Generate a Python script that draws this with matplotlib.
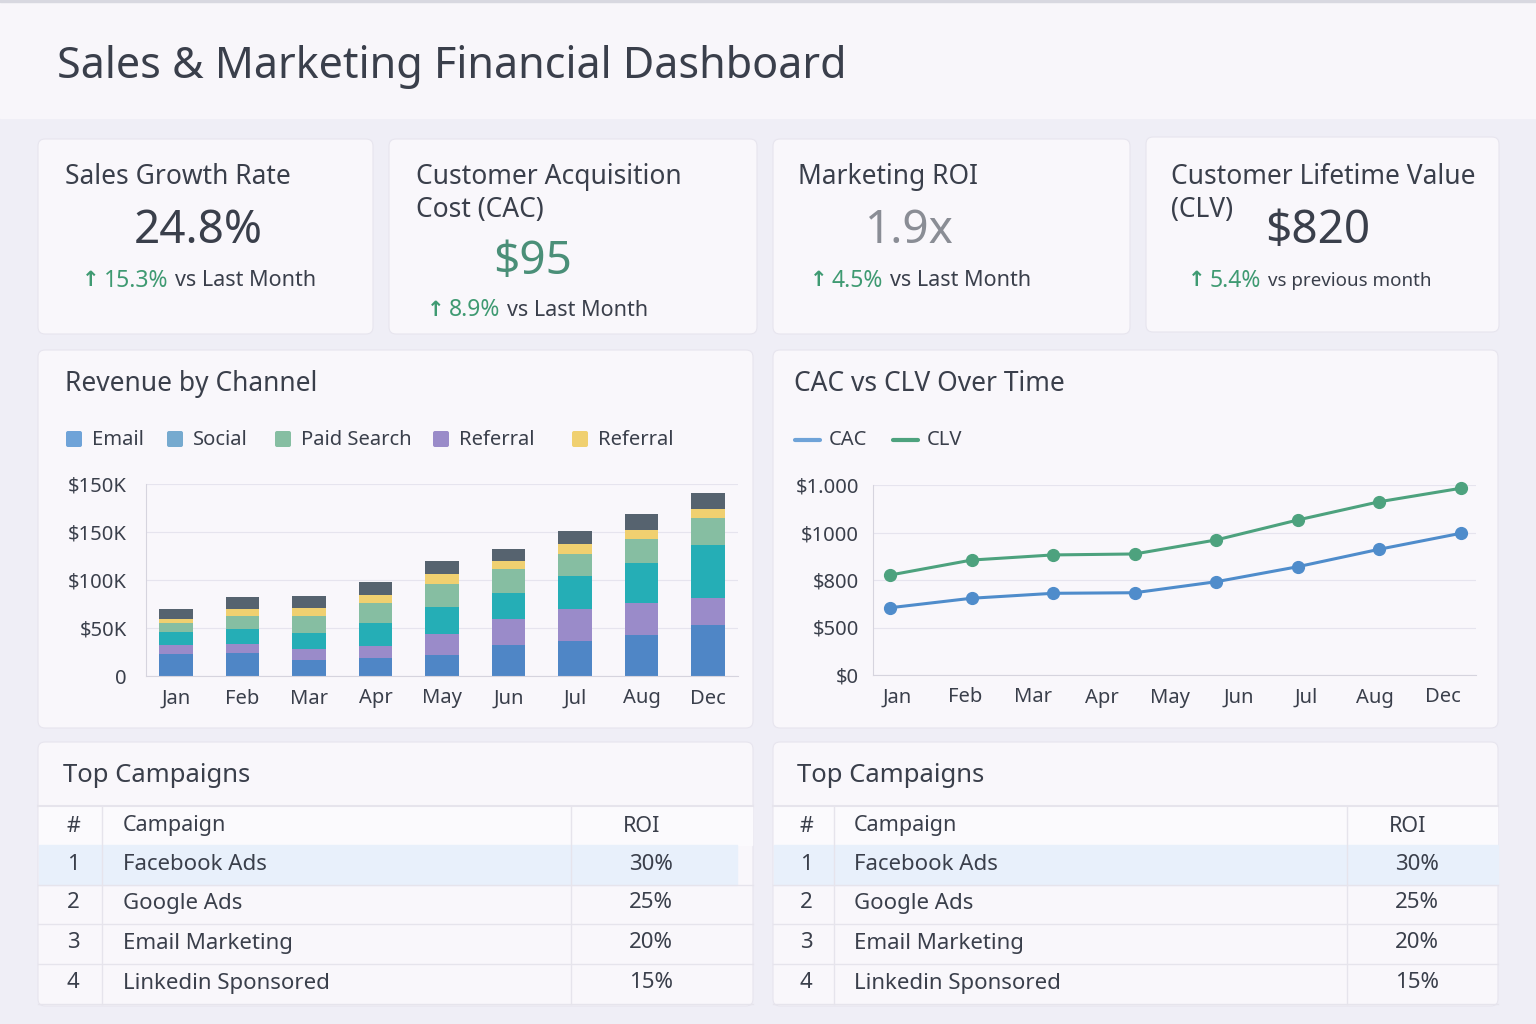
import numpy as np
import matplotlib
matplotlib.use("Agg")
import matplotlib.pyplot as plt
from matplotlib.patches import FancyBboxPatch, Rectangle
from matplotlib.lines import Line2D

plt.rcParams['font.family'] = ['Noto Sans', 'DejaVu Sans']

# ---- data ----
months = ["Jan", "Feb", "Mar", "Apr", "May", "Jun", "Jul", "Aug", "Dec"]
rev_email = [22.6, 23.7, 17.1, 18.8, 21.6, 32.1, 36.2, 42.9, 53.0]
rev_referral = [10.2, 9.7, 11.1, 12.6, 22.0, 27.1, 33.1, 33.1, 27.8]
rev_social = [13.5, 15.4, 16.7, 23.7, 28.5, 27.2, 34.9, 42.1, 55.8]
rev_search = [9.4, 13.9, 17.8, 20.9, 23.7, 25.1, 23.0, 24.8, 28.2]
rev_partner = [3.5, 7.0, 8.4, 8.3, 10.8, 8.4, 10.4, 9.4, 9.4]
rev_other = [10.1, 12.2, 12.5, 13.3, 12.9, 12.9, 13.6, 16.3, 16.0]
rev_ticks = [0, 50, 100, 150, 200]
rev_tick_labels = ["0", "$50K", "$100K", "$150K", "$150K"]

cac = [354, 404, 430, 433, 491, 570, 662, 746]
clv = [526, 605, 632, 637, 711, 816, 912, 983]
line_ticks = [0, 250, 500, 750, 1000]
line_tick_labels = ["$0", "$500", "$800", "$1000", "$1.000"]

kpi_titles = [["Sales Growth Rate"], ["Customer Acquisition", "Cost (CAC)"],
              ["Marketing ROI"], ["Customer Lifetime Value", "(CLV)"]]
kpi_values = ["24.8%", "$95", "1.9x", "$820"]
kpi_changes = ["15.3%", "8.9%", "4.5%", "5.4%"]
kpi_suffix = ["vs Last Month", "vs Last Month", "vs Last Month", "vs previous month"]

camp_rank = ["1", "2", "3", "4"]
camp_names = ["Facebook Ads", "Google Ads", "Email Marketing", "Linkedin Sponsored"]
camp_roi = ["30%", "25%", "20%", "15%"]

# ---- colours ----
DARK = "#3a3f4b"
GREEN = "#3f9a72"
BG = "#efeef6"
CARD = "#f9f7fb"
GRID = "#e6e4ee"
c_email, c_ref, c_social, c_search, c_partner, c_other = (
    "#4f86c6", "#9a8bc9", "#25aeb6", "#86bea2", "#f0d070", "#56636f")

fig = plt.figure(figsize=(15.36, 10.24), dpi=100, facecolor=BG)
bg = fig.add_axes([0, 0, 1, 1], zorder=0)
bg.set_xlim(0, 1536)
bg.set_ylim(1024, 0)
bg.axis("off")

# header band
bg.add_patch(Rectangle((0, 0), 1536, 118, color="#f8f6fa", zorder=1))
bg.add_patch(Rectangle((0, 0), 1536, 2, color="#d8d8e0", zorder=1))
bg.text(57, 67, "Sales & Marketing Financial Dashboard", fontsize=31,
        color=DARK, va="center", ha="left", zorder=3)


def card(x0, y0, x1, y1):
    bg.add_patch(FancyBboxPatch((x0, y0), x1 - x0, y1 - y0,
                                boxstyle="round,pad=0,rounding_size=7",
                                fc=CARD, ec="#e7e5ee", lw=0.8, zorder=2))


cards = [(38, 139, 373, 334), (389, 139, 757, 334), (773, 139, 1130, 334),
         (1146, 137, 1499, 332), (38, 350, 753, 728), (773, 350, 1498, 728),
         (38, 742, 753, 1006), (773, 742, 1498, 1006)]
for c in cards:
    card(*c)

fig.canvas.draw()
renderer = fig.canvas.get_renderer()


def runs(x, y, parts, ha="left"):
    # draw several coloured pieces of text one after the other
    items = []
    total = 0
    for txt, col, size, gap, weight in parts:
        t = bg.text(0, y, txt, fontsize=size, color=col, va="center",
                    ha="left", fontweight=weight, zorder=3)
        w = t.get_window_extent(renderer).width
        items.append((t, w, gap))
        total += w + gap
    if ha == "center":
        x = x - total / 2
    for t, w, gap in items:
        t.set_x(x)
        x += w + gap


# KPI cards
title_pos = [(65, 177), (416, 177), (798, 177), (1171, 177)]
value_pos = [(198, 231), (533, 262), (909, 231), (1318, 231)]
value_col = [DARK, "#4a8f78", "#8a8d95", DARK]
sub_pos = [(82, 281), (427, 310), (810, 281), (1188, 281)]
for i in range(4):
    tx, ty = title_pos[i]
    for j, line in enumerate(kpi_titles[i]):
        bg.text(tx, ty + j * 33, line, fontsize=19, color=DARK,
                va="center", ha="left", zorder=3)
    vx, vy = value_pos[i]
    bg.text(vx, vy, kpi_values[i], fontsize=33, color=value_col[i],
            va="center", ha="center", zorder=3)
    sx, sy = sub_pos[i]
    suf_size = 15.5 if i < 3 else 13.5
    runs(sx, sy, [("↑", GREEN, 15, 4, "bold"),
                  (kpi_changes[i], GREEN, 16.5, 7, "normal"),
                  (kpi_suffix[i], DARK, suf_size, 0, "normal")])

# section titles
bg.text(65, 384, "Revenue by Channel", fontsize=19, color=DARK,
        va="center", ha="left", zorder=3)
bg.text(794, 384, "CAC vs CLV Over Time", fontsize=19, color=DARK,
        va="center", ha="left", zorder=3)

# bar legend
leg_names = ["Email", "Social", "Paid Search", "Referral", "Referral"]
leg_cols = ["#6fa3d8", "#76aacf", "#86bea2", "#9a8bc9", "#f0d070"]
leg_x = [66, 167, 275, 433, 572]
for name, col, lx in zip(leg_names, leg_cols, leg_x):
    bg.add_patch(FancyBboxPatch((lx, 431), 16, 16,
                                boxstyle="round,pad=0,rounding_size=2",
                                fc=col, ec="none", zorder=3))
    bg.text(lx + 26, 440, name, fontsize=14.5, color=DARK, va="center",
            ha="left", zorder=3)

# line legend
for lx, name, col in [(795, "CAC", "#6fa3d8"), (893, "CLV", "#4da27e")]:
    bg.add_line(Line2D([lx, lx + 25], [440, 440], color=col, lw=3,
                       solid_capstyle="round", zorder=3))
    bg.text(lx + 34, 440, name, fontsize=14.5, color=DARK, va="center",
            ha="left", zorder=3)

# ---- stacked bar chart ----
ax1 = fig.add_axes([146 / 1536, 348 / 1024, 592 / 1536, 192 / 1024], zorder=4)
ax1.set_facecolor("none")
x = np.arange(len(months))
bottom = np.zeros(len(months))
for vals, col in [(rev_email, c_email), (rev_referral, c_ref),
                  (rev_social, c_social), (rev_search, c_search),
                  (rev_partner, c_partner), (rev_other, c_other)]:
    ax1.bar(x, vals, 0.5, bottom=bottom, color=col, edgecolor="none")
    bottom += np.array(vals)
ax1.set_xlim(-0.45, 8.45)
ax1.set_ylim(0, 200)
ax1.set_xticks(x)
ax1.set_xticklabels(months)
ax1.set_yticks(rev_ticks)
ax1.set_yticklabels(rev_tick_labels)
ax1.grid(axis="y", color=GRID, lw=0.8)
ax1.set_axisbelow(True)
for s in ["top", "right"]:
    ax1.spines[s].set_visible(False)
for s in ["left", "bottom"]:
    ax1.spines[s].set_color("#d6d4de")
ax1.tick_params(length=0, labelsize=14.5, colors=DARK)
ax1.tick_params(axis="x", pad=9)
ax1.tick_params(axis="y", pad=14)

# ---- line chart ----
ax2 = fig.add_axes([873 / 1536, 349 / 1024, 603 / 1536, 190 / 1024], zorder=4)
ax2.set_facecolor("none")
px = np.linspace(-0.1, 8.26, len(cac))
ax2.plot(px, clv, color="#4da27e", lw=2.2, marker="o", ms=8.5, clip_on=False)
ax2.plot(px, cac, color="#4f8ccb", lw=2.2, marker="o", ms=8.5, clip_on=False)
ax2.set_xlim(-0.35, 8.48)
ax2.set_ylim(0, 1000)
ax2.set_xticks(np.arange(len(months)))
ax2.set_xticklabels(months)
ax2.set_yticks(line_ticks)
ax2.set_yticklabels(line_tick_labels)
ax2.grid(axis="y", color=GRID, lw=0.8)
ax2.set_axisbelow(True)
for s in ["top", "right"]:
    ax2.spines[s].set_visible(False)
for s in ["left", "bottom"]:
    ax2.spines[s].set_color("#d6d4de")
ax2.tick_params(length=0, labelsize=14.5, colors=DARK)
ax2.tick_params(axis="x", pad=9)
ax2.tick_params(axis="y", pad=10)

# ---- tables ----
tables = [dict(x0=38, x1=753, title_x=63, num_x=73, vline1=102, name_x=123,
               vline2=571, roi_x=651, hl_x1=737),
          dict(x0=773, x1=1498, title_x=797, num_x=806, vline1=834, name_x=854,
               vline2=1347, roi_x=1417, hl_x1=1498)]
row_top = [845, 884, 924, 964]
row_h = 40
for tb in tables:
    bg.text(tb["title_x"], 775, "Top Campaigns", fontsize=18.5, color=DARK,
            va="center", ha="left", zorder=3)
    bg.add_line(Line2D([tb["x0"], tb["x1"]], [806, 806], color="#e6e4ec",
                       lw=1.5, zorder=3))
    bg.add_patch(Rectangle((tb["x0"] + 1, 806), tb["x1"] - tb["x0"] - 2, 39,
                           color="#fbfafd", zorder=2.5))
    bg.add_patch(Rectangle((tb["x0"] + 1, row_top[0]), tb["hl_x1"] - tb["x0"] - 1,
                           row_h, color="#e8f0fb", zorder=2.6))
    for vl in (tb["vline1"], tb["vline2"]):
        bg.add_line(Line2D([vl, vl], [806, 1004], color="#e6e4ec", lw=1,
                           zorder=3))
    bg.text(tb["num_x"], 826, "#", fontsize=15.5, color=DARK, va="center",
            ha="center", zorder=3)
    bg.text(tb["name_x"], 826, "Campaign", fontsize=15.5, color=DARK,
            va="center", ha="left", zorder=3)
    bg.text(tb["roi_x"] - 9, 826, "ROI", fontsize=15.5, color=DARK,
            va="center", ha="center", zorder=3)
    for r in range(4):
        cy = row_top[r] + row_h / 2 - 1
        bg.add_line(Line2D([tb["x0"], tb["x1"]], [row_top[r] + row_h] * 2,
                           color="#e6e4ec", lw=1, zorder=3))
        bg.text(tb["num_x"], cy, camp_rank[r], fontsize=16, color=DARK,
                va="center", ha="center", zorder=3)
        bg.text(tb["name_x"], cy, camp_names[r], fontsize=16, color=DARK,
                va="center", ha="left", zorder=3)
        bg.text(tb["roi_x"], cy, camp_roi[r], fontsize=16, color=DARK,
                va="center", ha="center", zorder=3)

fig.savefig("out.png", dpi=100, facecolor=BG)
